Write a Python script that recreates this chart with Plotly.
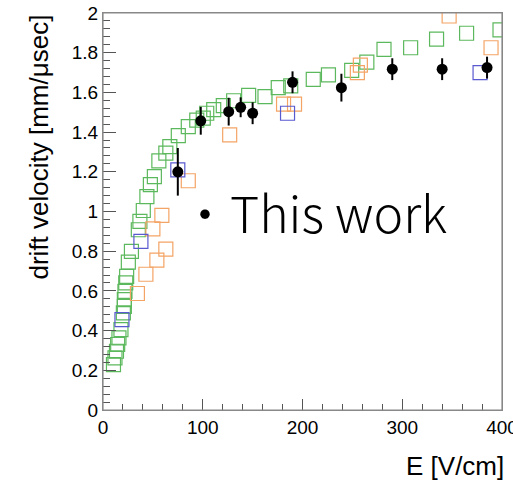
import plotly.graph_objects as go

# --- data ---
green_E = [10.5, 12, 13.5, 14.7, 16, 18, 20.4, 21.4, 21.4, 22, 22.8, 23.7, 25.4, 28.5,
           35.4, 37, 40.4, 44, 47.5, 51.5, 56, 63, 67, 75.5, 85.5, 94, 100.5, 104, 111,
           120.6, 131, 146, 162.4, 175.7, 188.2, 210.8, 226, 249.3, 264.5, 281.7, 308.4,
           334.4, 364.5, 398]
green_v = [0.229, 0.263, 0.296, 0.33, 0.363, 0.405, 0.489, 0.522, 0.556, 0.598, 0.64, 0.673,
           0.745, 0.799, 0.908, 0.95, 1.005, 1.075, 1.135, 1.176, 1.255, 1.294, 1.327, 1.382,
           1.428, 1.46, 1.47, 1.495, 1.513, 1.533, 1.558, 1.585, 1.579, 1.624, 1.633, 1.666,
           1.688, 1.711, 1.753, 1.817, 1.825, 1.868, 1.898, 1.915]

orange_E = [34.5, 43, 50, 54, 59, 63, 85.5, 127, 181, 192, 255, 258, 347, 389]
orange_v = [0.587, 0.684, 0.912, 0.755, 0.98, 0.81, 1.155, 1.386, 1.541, 1.541, 1.70, 1.737,
            1.985, 1.825]

blue_E = [19, 38, 75, 185, 378]
blue_v = [0.455, 0.85, 1.21, 1.495, 1.70]

work_E = [75, 98, 126, 138, 150, 190, 239, 290, 340, 385]
work_v = [1.20, 1.457, 1.503, 1.525, 1.495, 1.651, 1.624, 1.717, 1.717, 1.725]
work_err = [0.12, 0.07, 0.07, 0.05, 0.055, 0.055, 0.07, 0.055, 0.055, 0.055]

x_title = "E [V/cm]"
y_title = "drift velocity [mm/μsec]"
label_text = "・This work"

AX_FONT = "Liberation Sans, Arial, Helvetica, sans-serif"

fig = go.Figure()

def squares(x, y, color):
    return go.Scatter(x=x, y=y, mode="markers",
                      marker=dict(symbol="square-open", size=14, color=color,
                                  line=dict(width=1.2, color=color)),
                      showlegend=False, hoverinfo="skip")

fig.add_trace(squares(green_E, green_v, "#5cb85c"))
fig.add_trace(squares(orange_E, orange_v, "#f4a465"))
fig.add_trace(squares(blue_E, blue_v, "#5a5ad0"))

fig.add_trace(go.Scatter(
    x=work_E, y=work_v, mode="markers",
    marker=dict(symbol="circle", size=11, color="black"),
    error_y=dict(type="data", array=work_err, color="black", thickness=2, width=0),
    showlegend=False, hoverinfo="skip"))

fig.update_layout(
    template="none",
    width=513, height=482, autosize=False,
    margin=dict(l=103, r=11, t=13, b=71.5, autoexpand=False),
    paper_bgcolor="white", plot_bgcolor="white",
    font=dict(family=AX_FONT, size=18, color="black"),
    xaxis=dict(range=[0, 400], dtick=100, tick0=0, ticks="inside", ticklen=11,
               tickcolor="#555", showgrid=False, zeroline=False, automargin=False,
               showline=True, linecolor="#888", linewidth=1.2, mirror=True,
               tickfont=dict(size=19), ticklabeloverflow="allow",
               minor=dict(dtick=20, ticks="inside", ticklen=6, tickcolor="#555",
                          showgrid=False)),
    yaxis=dict(range=[0, 2], dtick=0.2, tick0=0, ticks="inside", ticklen=13,
               tickcolor="#555", showgrid=False, zeroline=False, automargin=False,
               showline=True, linecolor="#888", linewidth=1.2, mirror=True,
               tickfont=dict(size=19), ticklabeloverflow="allow",
               minor=dict(dtick=0.04, ticks="inside", ticklen=7, tickcolor="#555",
                          showgrid=False)),
)

# plot frame (ROOT-style box)
fig.add_shape(type="rect", xref="paper", yref="paper", x0=0, x1=1, y0=0, y1=1,
              line=dict(color="#888", width=1.2), fillcolor="rgba(0,0,0,0)", layer="above")

fig.add_annotation(text=y_title, textangle=-90, xref="paper", yref="paper",
                   x=(38 - 103) / 399, y=1.0, xanchor="center", yanchor="top",
                   showarrow=False, font=dict(family=AX_FONT, size=26, color="black"))
fig.add_annotation(text=x_title, xref="paper", yref="paper",
                   x=1.01, y=(410.5 - 467) / 397.5, xanchor="right", yanchor="middle",
                   showarrow=False, font=dict(family=AX_FONT, size=26, color="black"))
fig.add_annotation(text=label_text, xref="x", yref="y",
                   x=75, y=1.005, xanchor="left", yanchor="middle",
                   showarrow=False,
                   font=dict(family="Noto Sans CJK JP", size=50, weight=300, color="black"))

fig.write_html("out.html", config={"displayModeBar": False},
               post_script="document.body.style.margin='0';")
